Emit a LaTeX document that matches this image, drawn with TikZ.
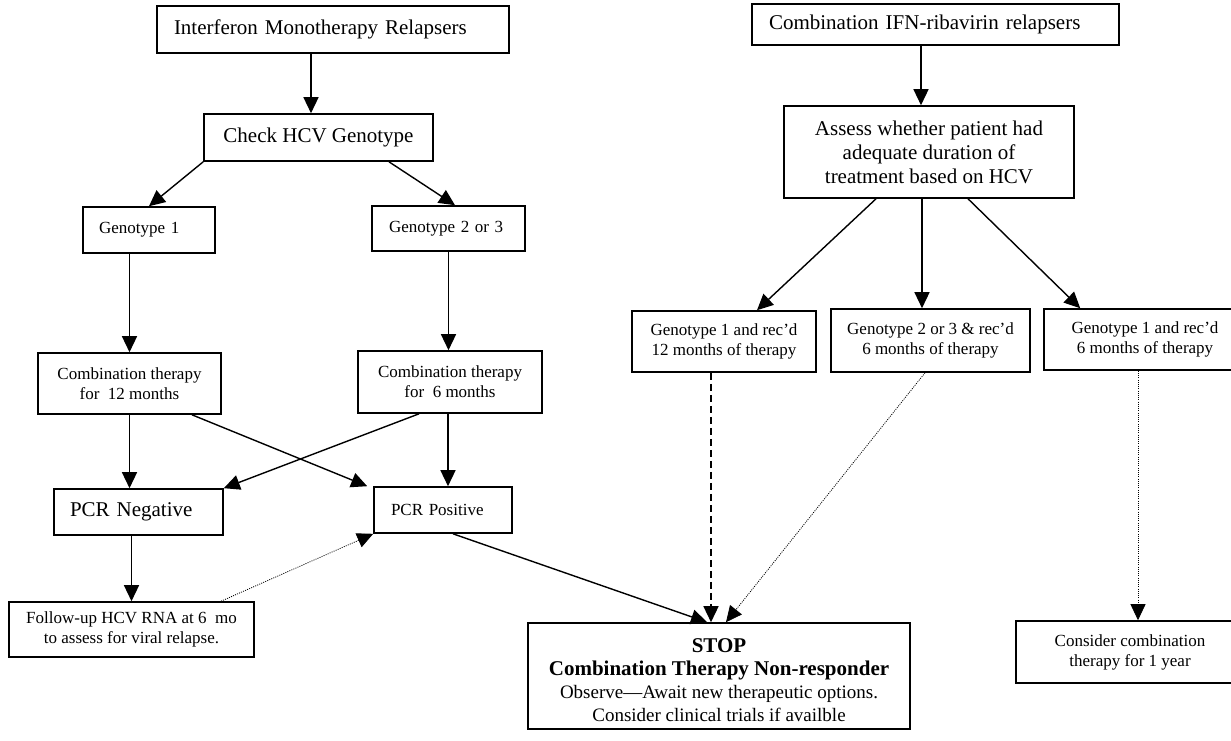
\documentclass[tikz,border=0pt]{standalone}
\usepackage{fontspec}
\setmainfont{Liberation Serif}
\usetikzlibrary{arrows.meta}
\begin{document}
\begin{tikzpicture}[x=1pt,y=-1pt,
  box/.style={draw, line width=1.6pt, inner sep=2pt, font=\fontsize{17}{20}\selectfont, align=center},
  big/.style={font=\fontsize{21}{24}\selectfont},
  lft/.style={align=left},
  tipA/.style={-{Triangle[length=16pt,width=15pt]}},
  arr/.style={line width=1.4pt, tipA},
  dotarr/.style={line width=0.8pt, dash pattern=on 1pt off 1.2pt, tipA},
  dasharr/.style={line width=1.4pt, dash pattern=on 7pt off 4pt, tipA}]
\useasboundingbox (0,0) rectangle (1231,740);
\clip (0,0) rectangle (1231,740);
% left column
\node[box,big,lft,text width=318pt,inner xsep=17pt,minimum height=47pt] (imr) at (333,29.5) {Interferon Monotherapy Relapsers};
\node[box,big,minimum width=229pt,minimum height=47pt] (chk) at (318.5,137.5) {Check HCV Genotype};
\node[box,lft,text width=100pt,inner xsep=16pt,minimum height=46pt] (g1) at (149,230) {Genotype 1};
\node[box,lft,text width=119pt,inner xsep=17pt,minimum height=45pt] (g23) at (448.5,228.5) {Genotype 2 or 3};
\node[box,minimum width=183pt,minimum height=61pt] (c12) at (129.5,383.5) {Combination therapy\\for~~12 months};
\node[box,minimum width=184pt,minimum height=62pt] (c6) at (450,382) {Combination therapy\\for~~6 months};
\node[box,big,lft,text width=137pt,inner xsep=16pt,minimum height=46pt] (pneg) at (138.5,512) {PCR Negative};
\node[box,lft,text width=104pt,inner xsep=17pt,minimum height=46pt] (ppos) at (443,510) {PCR Positive};
\node[box,minimum width=245pt,minimum height=55pt] (fol) at (131.5,629.5) {Follow-up HCV RNA at 6~~mo\\to assess for viral relapse.};
\node[box,minimum width=382pt,minimum height=106pt,font=\fontsize{19}{23}\selectfont] (stop) at (719,676)
  {\rule{0pt}{23pt}{\bfseries\fontsize{21}{23}\selectfont STOP}\\{\bfseries\fontsize{21}{23}\selectfont Combination Therapy Non-responder}\\Observe—Await new therapeutic options.\\Consider clinical trials if availble};
% right column
\node[box,big,lft,text width=333pt,inner xsep=17pt,minimum height=41pt] (cir) at (935.5,24.5) {Combination IFN-ribavirin relapsers};
\node[box,big,minimum width=290pt,minimum height=92pt] (as) at (929,152) {Assess whether patient had\\adequate duration of\\treatment based on HCV};
\node[box,minimum width=184pt,minimum height=61pt] (r1) at (724,341.5) {Genotype 1 and rec’d\\12 months of therapy};
\node[box,minimum width=199pt,minimum height=63pt] (r2) at (930.5,340.5) {Genotype 2 or 3 \& rec’d\\6 months of therapy};
\node[box,minimum width=202pt,minimum height=61pt] (r3) at (1145,339.5) {Genotype 1 and rec’d\\6 months of therapy};
\node[box,minimum width=228pt,minimum height=62pt] (con) at (1130,652) {Consider combination\\therapy for 1 year};
% connectors left
\draw[arr] ([xshift=-22pt]imr.south) -- ([xshift=-22pt]imr.south |- chk.north);
\draw[arr] (chk.south west) -- (g1.north);
\draw[arr] ([xshift=70.5pt]chk.south) -- ([xshift=6.5pt]g23.north);
\draw[arr] (g1.south -| c12.north) -- (c12.north);
\draw[arr] (g23.south) -- (g23.south |- c6.north);
\draw[arr] (c12.south) -- (c12.south |- pneg.north);
\draw[arr] ([xshift=62.5pt]c12.south) -- ([xshift=-6pt]ppos.north west);
\draw[arr] ([xshift=-31pt]c6.south) -- (pneg.north east);
\draw[arr] ([xshift=-2pt]c6.south) -- ([xshift=-2pt]c6.south |- ppos.north);
\draw[arr] (pneg.south -| fol.north) -- (fol.north);
\draw[dotarr] ([xshift=89.5pt]fol.north) -- (ppos.south west);
\draw[arr] ([xshift=10pt]ppos.south) -- ([xshift=-12pt]stop.north);
% connectors right
\draw[arr] ([xshift=-14.5pt]cir.south) -- ([xshift=-14.5pt]cir.south |- as.north);
\draw[arr] ([xshift=-53pt]as.south) -- ([xshift=33pt]r1.north);
\draw[arr] ([xshift=-7pt]as.south) -- ([xshift=-7pt]as.south |- r2.north);
\draw[arr] ([xshift=39pt]as.south) -- ([xshift=37pt]r3.north west);
\draw[dasharr] ([xshift=-13pt]r1.south) -- ([xshift=-13pt]r1.south |- stop.north);
\draw[dotarr] ([xshift=-5.5pt]r2.south) -- ([xshift=7pt]stop.north);
\draw[dotarr] ([xshift=-7pt]r3.south) -- ([xshift=-7pt]r3.south |- con.north);
\end{tikzpicture}
\end{document}
